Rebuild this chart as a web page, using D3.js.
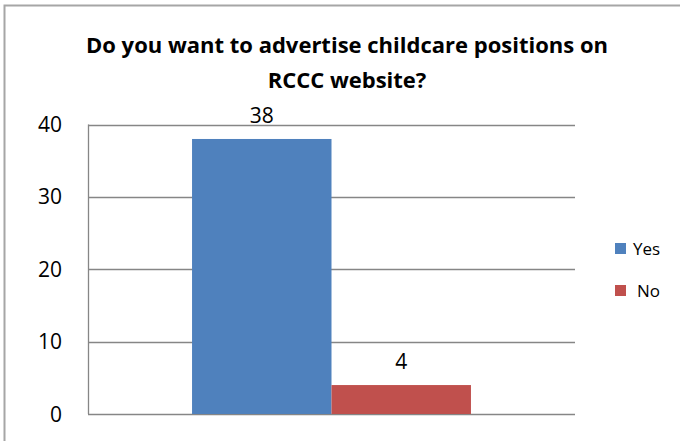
<!DOCTYPE html>
<meta charset="utf-8">
<style>
body { margin: 0; background: #fff; }
text { font-family: "Open Sans", "Noto Sans", sans-serif; fill: #000; }
.title { font-weight: bold; font-size: 22px; text-anchor: middle; }
.tick-label { font-size: 21px; text-anchor: end; }
.value { font-size: 21px; text-anchor: middle; }
.legend { font-size: 17px; }
</style>
<svg width="680" height="441"></svg>
<script src="https://d3js.org/d3.v7.min.js"></script>
<script>

// data
var categories = [""];
var seriesNames = ["Yes", "No"];
var seriesValues = [[38], [4]];
var seriesColors = ["#4F81BD", "#C0504D"];
var yTicks = [0, 10, 20, 30, 40];
var titleLines = ["Do you want to advertise childcare positions on", "RCCC website?"];

var svg = d3.select("svg");

// outer chart border
svg.append("rect")
    .attr("x", 4.5).attr("y", 5.5)
    .attr("width", 680).attr("height", 450)
    .attr("fill", "none")
    .attr("stroke", "#a6a6a6")
    .attr("stroke-width", 2);

var plot = { left: 88, right: 575, top: 124.5, bottom: 414 };

var y = d3.scaleLinear()
    .domain([0, 40])
    .range([plot.bottom, plot.top]);

var x0 = d3.scaleBand()
    .domain(categories)
    .range([plot.left, plot.right])
    .paddingInner(0)
    .paddingOuter(0.373);

var x1 = d3.scaleBand()
    .domain(seriesNames)
    .range([0, x0.bandwidth()]);

// gridlines
svg.append("g").selectAll("line")
    .data(yTicks)
    .enter().append("line")
    .attr("x1", plot.left).attr("x2", plot.right)
    .attr("y1", function(d) { return Math.round(y(d)) + 0.5; })
    .attr("y2", function(d) { return Math.round(y(d)) + 0.5; })
    .attr("stroke", "#868686")
    .attr("stroke-width", 1.3);

// y axis line
svg.append("line")
    .attr("x1", plot.left + 0.5).attr("x2", plot.left + 0.5)
    .attr("y1", y(40)).attr("y2", y(0))
    .attr("stroke", "#868686")
    .attr("stroke-width", 1.3);

svg.append("g").selectAll("text")
    .data(yTicks)
    .enter().append("text")
    .attr("class", "tick-label")
    .attr("x", 62)
    .attr("y", function(d) { return y(d) + 7.5; })
    .text(function(d) { return d; });

// bars
var bars = [];
seriesNames.forEach(function(s, i) {
  categories.forEach(function(c, j) {
    bars.push({ series: s, cat: c, value: seriesValues[i][j], color: seriesColors[i] });
  });
});

svg.append("g").selectAll("rect")
    .data(bars)
    .enter().append("rect")
    .attr("x", function(d) { return x0(d.cat) + x1(d.series); })
    .attr("width", x1.bandwidth())
    .attr("y", function(d) { return y(d.value); })
    .attr("height", function(d) { return y(0) - y(d.value); })
    .attr("fill", function(d) { return d.color; });

svg.append("g").selectAll("text")
    .data(bars)
    .enter().append("text")
    .attr("class", "value")
    .attr("x", function(d) { return x0(d.cat) + x1(d.series) + x1.bandwidth() / 2; })
    .attr("y", function(d) { return y(d.value) - 16; })
    .text(function(d) { return d.value; });

// title
svg.append("g").selectAll("text")
    .data(titleLines)
    .enter().append("text")
    .attr("class", "title")
    .attr("x", 347)
    .attr("y", function(d, i) { return 53 + i * 35; })
    .text(function(d) { return d; });

// legend
var legend = svg.append("g").selectAll("g")
    .data(seriesNames)
    .enter().append("g")
    .attr("transform", function(d, i) { return "translate(615," + (243 + i * 42) + ")"; });

legend.append("rect")
    .attr("width", 11).attr("height", 11)
    .attr("fill", function(d, i) { return seriesColors[i]; });

legend.append("text")
    .attr("class", "legend")
    .attr("x", function(d, i) { return i === 0 ? 18 : 22; })
    .attr("y", 12)
    .text(function(d) { return d; });

</script>
